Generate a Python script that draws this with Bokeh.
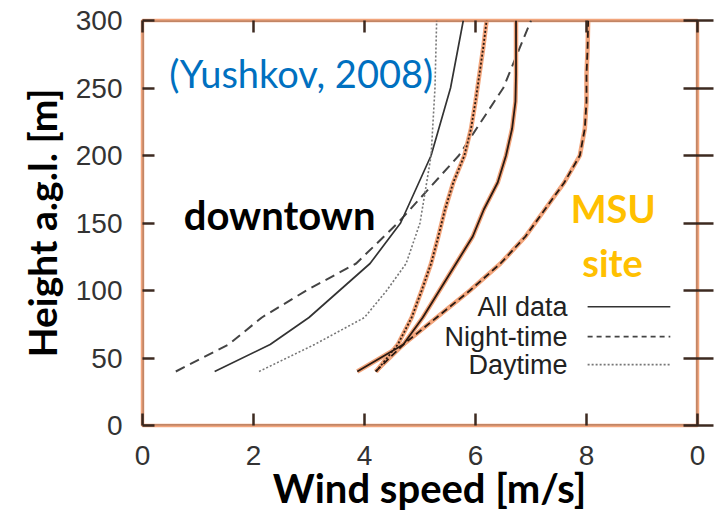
from bokeh.plotting import figure
from bokeh.models import Range1d, LinearAxis, BoxAnnotation, Label, FixedTicker
from bokeh.embed import file_html
from bokeh.resources import INLINE

# Downtown profiles (Yushkov, 2008)
dt_height = [40, 60, 80, 100, 120, 150, 200, 250, 300]
dt_all = [1.3, 2.3, 3.0, 3.55, 4.1, 4.65, 5.2, 5.55, 5.78]
dt_night = [0.6, 1.55, 2.15, 2.95, 3.85, 4.6, 5.7, 6.5, 7.0]
dt_day = [2.1, 3.1, 4.0, 4.4, 4.75, 5.0, 5.2, 5.27, 5.3]

# MSU site profiles
msu_height = [40, 60, 80, 100, 120, 140, 160, 180, 200, 220, 240, 260, 280, 300]
msu_all = [3.87, 4.7, 5.05, 5.35, 5.65, 5.95, 6.15, 6.4, 6.55, 6.66, 6.72, 6.73, 6.73, 6.73]
msu_night = [4.2, 4.7, 5.3, 5.9, 6.45, 6.9, 7.25, 7.6, 7.88, 7.97, 8.0, 8.0, 8.02, 8.03]
msu_day = [4.21, 4.6, 4.85, 5.03, 5.2, 5.33, 5.45, 5.6, 5.8, 5.92, 6.0, 6.07, 6.14, 6.2]

x_ticks = [0, 2, 4, 6, 8, 10]
y_ticks = [0, 50, 100, 150, 200, 250, 300]

ORANGE = "#F2A57C"
TICK = "#3d2a20"
LABEL_FONT = "Liberation Sans"
TEXT_FONT = "Lato"
NBSP = "\u00a0"

p = figure(width=714, height=514, output_backend="svg", toolbar_location=None,
           x_range=Range1d(0, 10), y_range=Range1d(0, 300),
           min_border_left=142, min_border_right=17, min_border_top=20, min_border_bottom=88)
p.xgrid.visible = False
p.ygrid.visible = False
p.background_fill_color = "white"
p.border_fill_color = "white"
p.outline_line_color = ORANGE
p.outline_line_width = 3.5

# frame drawn in black over the orange rim
p.add_layout(BoxAnnotation(left=0, right=10, bottom=0, top=300, fill_alpha=0,
                           line_color="#1a1a1a", line_width=2.5, level="overlay"))

# axes
p.xaxis.ticker = FixedTicker(ticks=x_ticks)
p.yaxis.ticker = FixedTicker(ticks=y_ticks)
p.xaxis.major_label_overrides = {10: "0"}
for ax in (p.xaxis[0], p.yaxis[0]):
    ax.axis_line_color = None
    ax.major_tick_in = 12
    ax.major_tick_out = 0
    ax.major_tick_line_color = TICK
    ax.major_tick_line_width = 2.5
    ax.minor_tick_line_color = None
    ax.major_label_text_font = LABEL_FONT
    ax.major_label_text_font_size = "28px"
    ax.major_label_text_color = "#333333"
    ax.axis_label_text_font = TEXT_FONT
    ax.axis_label_text_font_style = "bold"
    ax.axis_label_text_color = "black"
p.xaxis.major_label_standoff = 20
p.yaxis.major_label_standoff = 20
# a little padding keeps the x title slightly right of the frame centre
p.xaxis.axis_label = NBSP * 2 + "Wind speed [m/s]"
p.xaxis.axis_label_text_font_size = "40px"
p.xaxis.axis_label_standoff = -4
p.yaxis.axis_label = "Height a.g.l. [m]"
p.yaxis.axis_label_text_font_size = "39px"
p.yaxis.axis_label_standoff = 8

# mirrored ticks on the top and right edges
blank_x = {t: "" for t in x_ticks}
blank_y = {t: "" for t in y_ticks}
top_ax = LinearAxis(ticker=FixedTicker(ticks=x_ticks), axis_line_color=None,
                    major_tick_in=12, major_tick_out=0, major_tick_line_color=TICK,
                    major_tick_line_width=2.5, minor_tick_line_color=None,
                    major_label_overrides=blank_x, major_label_standoff=0)
p.add_layout(top_ax, "above")
right_ax = LinearAxis(ticker=FixedTicker(ticks=y_ticks), axis_line_color=None,
                      major_tick_in=14, major_tick_out=16, major_tick_line_color=TICK,
                      major_tick_line_width=2.5, minor_tick_line_color=None,
                      major_label_overrides=blank_y, major_label_standoff=0)
p.add_layout(right_ax, "right")

# downtown profiles
p.line(dt_night, dt_height, line_color="#444444", line_width=2, line_dash="10 6")
p.line(dt_all, dt_height, line_color="#333333", line_width=1.7)
p.line(dt_day, dt_height, line_color="#777777", line_width=1.6, line_dash="2 2")

# MSU profiles: orange rim under black line
for xs in (msu_night, msu_day, msu_all):
    p.line(xs, msu_height, line_color=ORANGE, line_width=4.5)
for xs, dash in ((msu_night, "7 4"), (msu_day, "2 2"), (msu_all, "solid")):
    p.line(xs, msu_height, line_color="#2a1a12", line_width=1.8, line_dash=dash)

# legend
LEG_TEXT_X = 7.66
LEG_X0, LEG_X1 = 8.02, 9.51
legend_rows = [("All data", 88, "solid", "#333333"),
               ("Night-time", 65.8, "5 4", "#444444"),
               ("Daytime", 45.1, "2 2", "#777777")]
for name, yy, dash, col in legend_rows:
    p.add_layout(Label(x=LEG_TEXT_X, y=yy, text=name, text_align="right",
                       text_baseline="middle", text_font=LABEL_FONT,
                       text_font_size="27px", text_color="#222222"))
    p.line([LEG_X0, LEG_X1], [yy, yy], line_color=col, line_width=1.6, line_dash=dash)

# annotations
p.add_layout(Label(x=2.86, y=260.8, text="(Yushkov, 2008)", text_align="center",
                   text_baseline="middle", text_font=TEXT_FONT, text_font_size="38px",
                   text_color="#0070C0"))
p.add_layout(Label(x=2.47, y=155.9, text="downtown", text_align="center",
                   text_baseline="middle", text_font=TEXT_FONT, text_font_size="40px",
                   text_font_style="bold", text_color="black"))
p.add_layout(Label(x=8.48, y=161, text="MSU", text_align="center",
                   text_baseline="middle", text_font=TEXT_FONT, text_font_size="38px",
                   text_font_style="bold", text_color="#FFC000"))
p.add_layout(Label(x=8.47, y=121, text="site", text_align="center",
                   text_baseline="middle", text_font=TEXT_FONT, text_font_size="38px",
                   text_font_style="bold", text_color="#FFC000"))

open("out.html", "w").write(file_html(p, INLINE))
